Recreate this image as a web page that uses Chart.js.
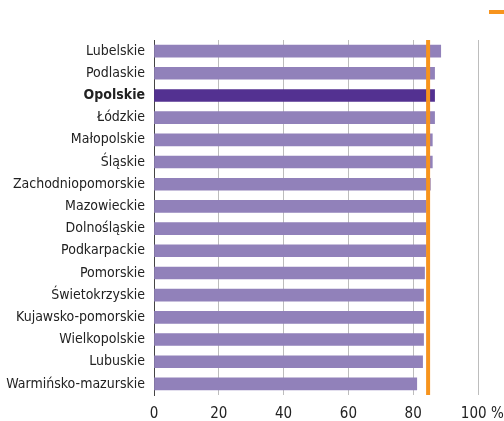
<!DOCTYPE html>
<html lang="pl">
<head>
<meta charset="UTF-8" />
<title>Województwa</title>
<script src="https://cdn.jsdelivr.net/npm/chart.js"></script>
<style>
  body { margin: 0; background: #fff; }
  #wykres { display: block; }
</style>
</head>
<body>
<canvas id="wykres" width="504" height="421"></canvas>
<script>
    const wojewodztwa = ['Lubelskie', 'Podlaskie', 'Opolskie', 'Łódzkie', 'Małopolskie', 'Śląskie',
        'Zachodniopomorskie', 'Mazowieckie', 'Dolnośląskie', 'Podkarpackie', 'Pomorskie',
        'Świetokrzyskie', 'Kujawsko-pomorskie', 'Wielkopolskie', 'Lubuskie', 'Warmińsko-mazurskie'];
    const wartosci = [88.5, 86.6, 86.6, 86.6, 85.9, 85.9, 85.3, 84.0, 84.0, 84.0, 83.5, 83.2, 83.2, 83.2, 82.9, 81.1];
    const polska = 84.6;
    const wyrozniony = 'Opolskie';
    const ticksX = [0, 20, 40, 60, 80, 100];

    const czcionka = "'Liberation Sans Narrow', 'DejaVu Sans Condensed', sans-serif";

    // pionowa linia średniej dla Polski + znaczek legendy w rogu
    const liniaPolska = {
        id: 'liniaPolska',
        afterDatasetsDraw(chart) {
            const ctx = chart.ctx;
            const x = chart.scales.x.getPixelForValue(polska);
            const area = chart.chartArea;
            ctx.save();
            ctx.strokeStyle = '#f7941d';
            ctx.lineWidth = 4;
            ctx.beginPath();
            ctx.moveTo(x, area.top);
            ctx.lineTo(x, area.bottom);
            ctx.stroke();
            ctx.beginPath();
            ctx.moveTo(489, 12);
            ctx.lineTo(504, 12);
            ctx.stroke();
            ctx.restore();
        }
    };

    new Chart(document.getElementById('wykres'), {
        type: 'bar',
        data: {
            labels: wojewodztwa,
            datasets: [{
                data: wartosci,
                backgroundColor: wojewodztwa.map(w => w === wyrozniony ? '#533191' : '#9181ba'),
                barThickness: 12
            }]
        },
        options: {
            indexAxis: 'y',
            responsive: false,
            animation: false,
            layout: { padding: { top: 40, right: 26, bottom: 0, left: 0 } },
            plugins: {
                legend: { display: false },
                tooltip: { enabled: false }
            },
            scales: {
                x: {
                    min: 0,
                    max: 100,
                    afterBuildTicks: s => { s.ticks = ticksX.map(v => ({ value: v })); },
                    afterFit: s => { s.height = 26; s.paddingLeft = 0; s.paddingRight = 0; },
                    grid: { color: '#bdbdbd', lineWidth: 1, drawTicks: false },
                    border: { display: false },
                    ticks: {
                        padding: 10,
                        color: '#222',
                        minRotation: 0,
                        maxRotation: 0,
                        autoSkip: false,
                        font: { family: czcionka, size: 15 },
                        callback: v => v === 100 ? '  100 %' : v
                    }
                },
                y: {
                    afterFit: s => { s.width = 154; },
                    grid: { display: false, drawTicks: false },
                    border: { display: true, color: '#444', width: 1 },
                    ticks: {
                        padding: 9,
                        color: '#222',
                        font: ctx => ({
                            family: czcionka,
                            size: 14,
                            weight: wojewodztwa[ctx.index] === wyrozniony ? 'bold' : 'normal'
                        })
                    }
                }
            }
        },
        plugins: [liniaPolska]
    });
</script>
</body>
</html>
